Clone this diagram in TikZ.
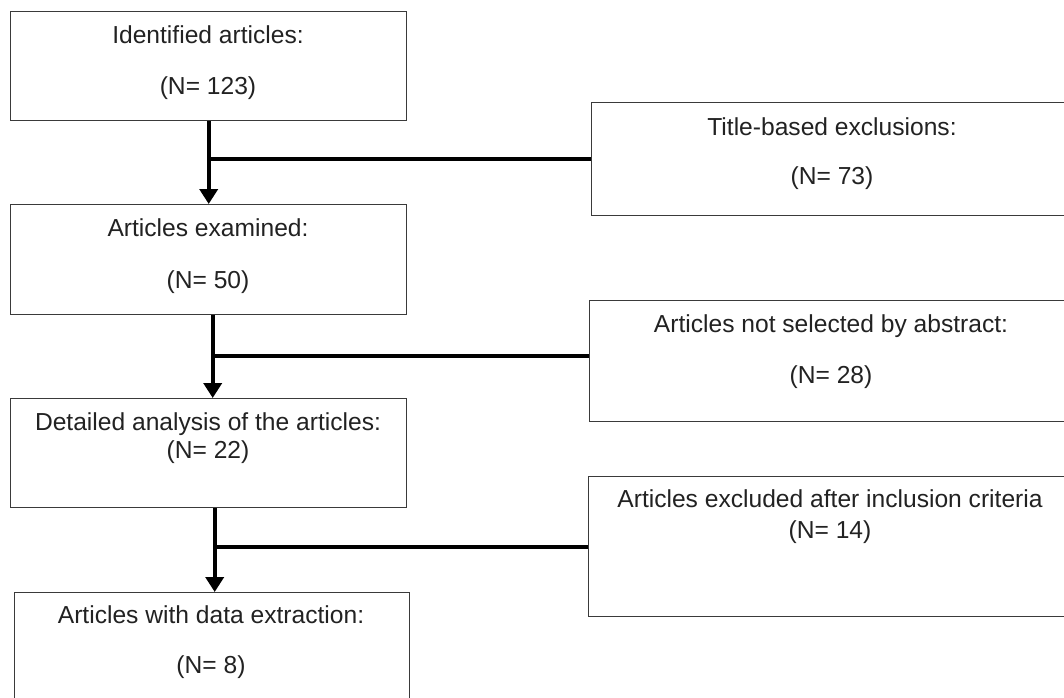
\documentclass[tikz,border=0pt]{standalone}
\usepackage{fontspec}
\setmainfont{Liberation Sans}
\usetikzlibrary{arrows.meta}
\definecolor{boxgray}{HTML}{3A3A3A}
\definecolor{textgray}{HTML}{222222}
\begin{document}
\begin{tikzpicture}[x=1pt,y=-1pt,
  box/.style={draw=boxgray, line width=1.4pt, inner sep=0pt, anchor=north west},
  txt/.style={anchor=base, font=\fontsize{24.6}{28}\selectfont, text=textgray, inner sep=0pt},
  arr/.style={line width=4pt, -{Triangle[width=18pt,length=15pt]}},
  joinline/.style={line width=4pt}]
\useasboundingbox (0,0) rectangle (1064,697);
\clip (0,0) rectangle (1064,697);
\fill[white] (0,0) rectangle (1064,697);
% boxes
\node[box, minimum width=396pt, minimum height=109pt] (b1) at (10,11) {};
\node[box, minimum width=482pt, minimum height=113pt] (b2) at (591,102) {};
\node[box, minimum width=396pt, minimum height=110pt] (b3) at (10,204) {};
\node[box, minimum width=484pt, minimum height=121pt] (b4) at (589,300) {};
\node[box, minimum width=396pt, minimum height=109pt] (b5) at (10,398) {};
\node[box, minimum width=485pt, minimum height=140pt] (b6) at (588,476) {};
\node[box, minimum width=395pt, minimum height=120pt] (b7) at (14,592) {};
% texts
\node[txt] (t1a) at (208,43) {Identified articles:};
\node[txt] (t1b) at (208,94) {(N= 123)};
\node[txt] (t2a) at (832,135) {Title-based exclusions:};
\node[txt] (t2b) at (832,184) {(N= 73)};
\node[txt] (t3a) at (208,236) {Articles examined:};
\node[txt] (t3b) at (208,288) {(N= 50)};
\node[txt] (t4a) at (831,332) {Articles not selected by abstract:};
\node[txt] (t4b) at (831,383) {(N= 28)};
\node[txt] (t5a) at (208,430) {Detailed analysis of the articles:};
\node[txt] (t5b) at (208,458) {(N= 22)};
\node[txt] (t6a) at (830,507) {Articles excluded after inclusion criteria};
\node[txt] (t6b) at (830,538) {(N= 14)};
\node[txt] (t7a) at (211,623) {Articles with data extraction:};
\node[txt] (t7b) at (211,673) {(N= 8)};
% connector start points
\coordinate (s1) at (b1.south);
\coordinate (s2) at ([xshift=4pt]b3.south);
\coordinate (s3) at ([xshift=6pt]b5.south);
\coordinate (w4) at ([yshift=5pt]b4.west);
% connectors
\draw[arr] (s1) -- (s1 |- b3.north);
\draw[joinline] (b2.west) -- (b2.west -| s1);
\draw[arr] (s2) -- (s2 |- b5.north);
\draw[joinline] (w4) -- (w4 -| s2);
\draw[arr] (s3) -- (s3 |- b7.north);
\draw[joinline] (b6.west) -- (b6.west -| s3);
\end{tikzpicture}
\end{document}
